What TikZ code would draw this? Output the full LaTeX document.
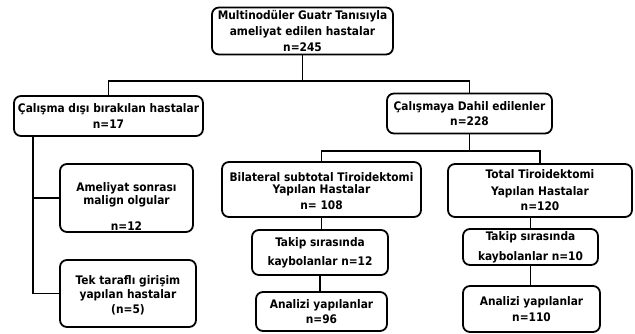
\documentclass[tikz,border=0pt]{standalone}
\usepackage{fontspec}
\setmainfont{DejaVu Sans Condensed}
\usetikzlibrary{calc}
\begin{document}
\begin{tikzpicture}[x=1pt,y=-1pt,
  box/.style={draw=black, line width=1.8pt, rounded corners=7pt, align=center, inner sep=0pt,
    font=\bfseries\fontsize{11.8}{16}\selectfont},
  conn/.style={draw=black, line width=1.8pt}]
\useasboundingbox (0,0) rectangle (635,334);
\node[box, minimum width=181pt, minimum height=47pt] (top) at (302.5,31)
  {Multinodüler Guatr Tanısıyla\\ameliyat edilen hastalar\\n=245};
\node[box, minimum width=189pt, minimum height=40pt] (excl) at (108.5,116)
  {Çalışma dışı bırakılan hastalar\\n=17};
\node[box, minimum width=165pt, minimum height=40pt] (incl) at (469.5,113.5)
  {Çalışmaya Dahil edilenler\\[-1pt]n=228};
\node[box, minimum width=133pt, minimum height=68pt] (amel) at (126.5,198)
  {\rule{0pt}{25pt}Ameliyat sonrası\\[-3pt]malign olgular\\[10pt]n=12};
\node[box, minimum width=136pt, minimum height=67pt] (tek) at (128,293.5)
  {\rule{0pt}{12pt}Tek taraflı girişim\\[-2pt]yapılan hastalar\\[-1pt](n=5)};
\node[box, minimum width=199pt, minimum height=55pt] (bil) at (321.5,189.5)
  {\rule{0pt}{13pt}Bilateral subtotal Tiroidektomi\\[-4pt]Yapılan Hastalar\\n= 108};
\node[box, minimum width=136pt, minimum height=45pt] (tak1) at (320,252.5)
  {Takip sırasında\\[3pt]kaybolanlar n=12};
\node[box, minimum width=131pt, minimum height=39pt] (an1) at (321.5,311.5)
  {Analizi yapılanlar\\[-1pt]n=96};
\node[box, minimum width=184pt, minimum height=53pt] (tot) at (540,190.5)
  {Total Tiroidektomi\\[1pt]Yapılan Hastalar\\[-1pt]n=120};
\node[box, minimum width=135pt, minimum height=36pt] (tak2) at (530.5,247)
  {Takip sırasında\\[4pt]kaybolanlar n=10};
\node[box, minimum width=137pt, minimum height=46pt] (an2) at (531.5,309)
  {Analizi yapılanlar\\n=110};
% connectors
\draw[conn] (top.south) -- ++(0,26) coordinate (j1);
\draw[conn] (excl.north) |- (j1) -| (incl.north);
\draw[conn] (incl.south) -- ++(0,16.5) coordinate (j2);
\draw[conn] (bil.north) |- (j2) -| (tot.north);
\coordinate (l0) at ([xshift=20pt]excl.south west);
\draw[conn] (l0) |- (tek.west);
\draw[conn] (l0) |- (amel.west);
\draw[conn] (bil.south) -- (bil.south |- tak1.north);
\draw[conn] (tak1.south) -- (tak1.south |- an1.north);
\draw[conn] (tak2.north |- tot.south) -- (tak2.north);
\draw[conn] (tak2.south) -- (tak2.south |- an2.north);
\end{tikzpicture}
\end{document}
